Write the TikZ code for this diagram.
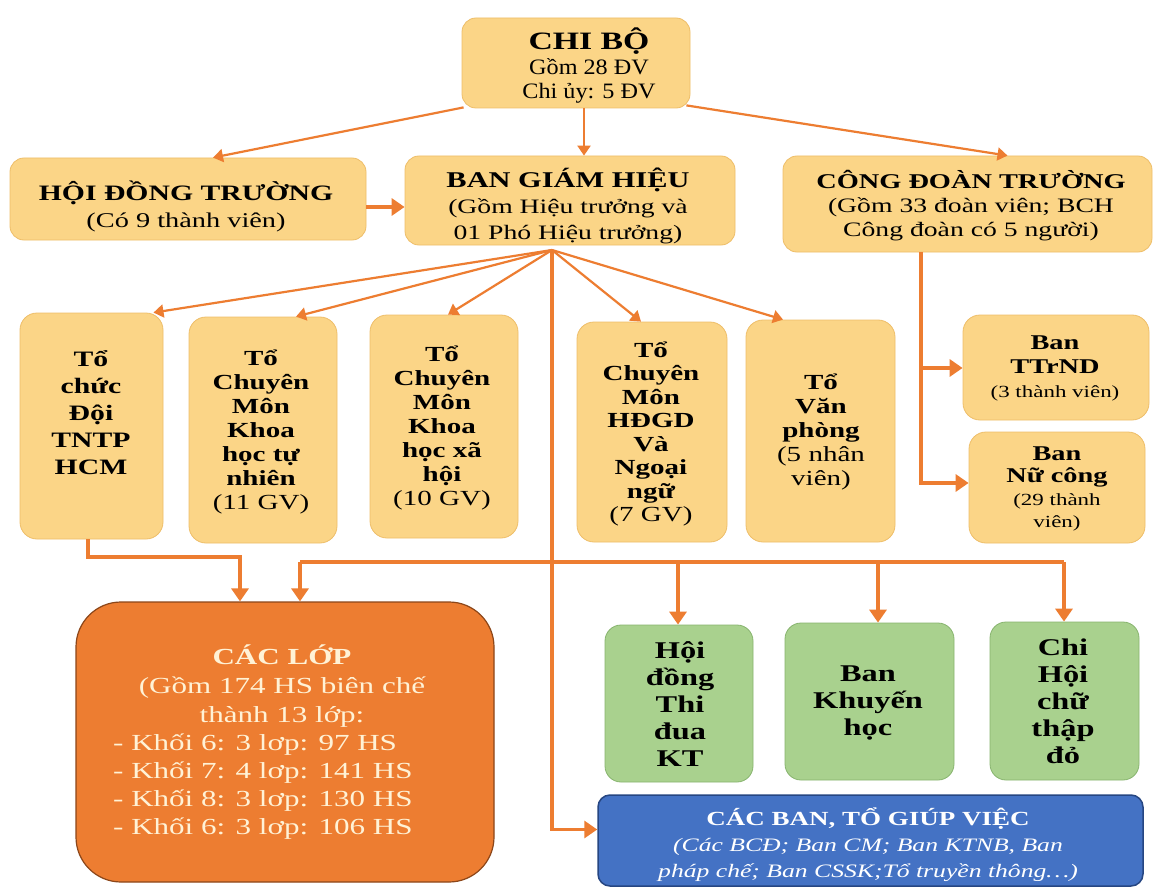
\documentclass[tikz,border=0pt]{standalone}
\usepackage{fontspec}
\setmainfont{Liberation Serif}[FakeStretch=1.35]
\newfontfamily\lessstretch{Liberation Serif}[FakeStretch=1.1]
\usetikzlibrary{arrows.meta}
\definecolor{arr}{RGB}{237,125,49}
\definecolor{yfill}{RGB}{251,213,135}
\definecolor{yedge}{RGB}{238,190,105}
\definecolor{gfill}{RGB}{169,209,142}
\definecolor{gedge}{RGB}{135,180,110}
\definecolor{bfill}{RGB}{68,114,196}
\definecolor{bedge}{RGB}{38,70,130}
\definecolor{ofill}{RGB}{237,125,49}
\definecolor{oedge}{RGB}{140,70,25}
\definecolor{cream}{RGB}{255,242,214}
\begin{document}
\begin{tikzpicture}[x=1pt,y=-1pt,
  ybox/.style={draw=yedge, line width=0.8pt, fill=yfill, rounded corners=14pt, inner sep=0pt},
  gbox/.style={draw=gedge, line width=0.8pt, fill=gfill, rounded corners=16pt, inner sep=0pt},
  obox/.style={draw=oedge, line width=1.2pt, fill=ofill, rounded corners=45pt, inner sep=0pt},
  bbox/.style={draw=bedge, line width=1.5pt, fill=bfill, rounded corners=12pt, inner sep=0pt},
  txt/.style={inner sep=0pt, align=center, text=black},
  tarr/.style={draw=arr, line width=2.2pt, -{Triangle[length=10pt,width=13pt]}},
  karr/.style={draw=arr, line width=3.8pt, -{Triangle[length=13pt,width=17pt]}},
  kline/.style={draw=arr, line width=3.8pt}
]
\useasboundingbox (0,0) rectangle (1154,888);
\fill[white] (0,0) rectangle (1154,888);

% top level
\node[ybox, minimum width=228pt, minimum height=90pt] (chibo) at (576,63) {};
\node[txt, font=\lessstretch\fontsize{22}{24.5}\selectfont] (chibo-t) at (589,66)
  {{\rmfamily\fontsize{25}{24.5}\selectfont\bfseries CHI BỘ}\\Gồm 28 ĐV\\Chi ủy: 5 ĐV};

\node[ybox, minimum width=356pt, minimum height=82pt] (hdt) at (188,199) {};
\node[txt, font=\fontsize{21}{27}\selectfont] (hdt-t) at (186,206)
  {{\fontsize{22}{27}\selectfont\bfseries HỘI ĐỒNG TRƯỜNG}\\(Có 9 thành viên)};

\node[ybox, minimum width=330pt, minimum height=89pt] (bgh) at (570,200.5) {};
\node[txt, font=\fontsize{20.5}{26}\selectfont] (bgh-t) at (568,206)
  {{\fontsize{22.5}{26}\selectfont\bfseries BAN GIÁM HIỆU}\\(Gồm Hiệu trưởng và\\01 Phó Hiệu trưởng)};

\node[ybox, minimum width=369pt, minimum height=96pt] (cdt) at (967.5,204) {};
\node[txt, font=\fontsize{20.5}{24}\selectfont] (cdt-t) at (971,206)
  {{\fontsize{21}{24}\selectfont\bfseries CÔNG ĐOÀN TRƯỜNG}\\(Gồm 33 đoàn viên; BCH\\Công đoàn có 5 người)};

% second row
\node[ybox, rounded corners=17pt, minimum width=143pt, minimum height=226pt] (tochuc) at (91.5,426) {};
\node[txt, font=\fontsize{22}{27}\selectfont\bfseries] (tochuc-t) at (91,412.5)
  {Tổ\\chức\\Đội\\TNTP\\HCM};

\node[ybox, rounded corners=17pt, minimum width=148pt, minimum height=226pt] (khtn) at (263,430) {};
\node[txt, font=\fontsize{21.5}{24}\selectfont\bfseries] (khtn-t) at (261,432)
  {Tổ\\Chuyên\\Môn\\Khoa\\học tự\\nhiên\\{\mdseries (11 GV)}};

\node[ybox, rounded corners=17pt, minimum width=148pt, minimum height=223pt] (khxh) at (444,426.5) {};
\node[txt, font=\fontsize{21.5}{24}\selectfont\bfseries] (khxh-t) at (442,428)
  {Tổ\\Chuyên\\Môn\\Khoa\\học xã\\hội\\{\mdseries (10 GV)}};

\node[ybox, rounded corners=17pt, minimum width=150pt, minimum height=220pt] (hdgd) at (652,432) {};
\node[txt, font=\fontsize{21.5}{23.5}\selectfont\bfseries] (hdgd-t) at (651,434)
  {Tổ\\Chuyên\\Môn\\HĐGD\\Và\\Ngoại\\ngữ\\{\mdseries (7 GV)}};

\node[ybox, rounded corners=17pt, minimum width=149pt, minimum height=222pt] (vp) at (820.5,431) {};
\node[txt, font=\fontsize{21.5}{24}\selectfont\bfseries] (vp-t) at (821,432)
  {Tổ\\Văn\\phòng\\{\mdseries (5 nhân}\\{\mdseries viên)}};

\node[ybox, rounded corners=17pt, minimum width=186pt, minimum height=105pt] (ttrnd) at (1056,367.5) {};
\node[txt, font=\fontsize{21}{24}\selectfont\bfseries] (ttrnd-t) at (1055,368)
  {Ban\\TTrND\\{\mdseries\fontsize{17}{22}\selectfont (3 thành viên)}};

\node[ybox, rounded corners=17pt, minimum width=176pt, minimum height=111pt] (nucong) at (1057,487.5) {};
\node[txt, font=\fontsize{21}{22.5}\selectfont\bfseries] (nucong-t) at (1057,489)
  {Ban\\Nữ công\\{\mdseries\fontsize{17}{20}\selectfont (29 thành}\\{\mdseries\fontsize{17}{20}\selectfont viên)}};

% classes
\node[obox, minimum width=418pt, minimum height=280pt] (caclop) at (285,742) {};
\node[txt, text=cream, font=\fontsize{23}{29}\selectfont] (caclop-t) at (282,686)
  {{\bfseries CÁC LỚP}\\(Gồm 174 HS biên chế\\thành 13 lớp:};
\node[txt, text=cream, align=left, anchor=west, font=\fontsize{23}{28}\selectfont] (caclop-k) at (113,787)
  {- Khối 6: 3 lơp: 97 HS\\- Khối 7: 4 lơp: 141 HS\\- Khối 8: 3 lơp: 130 HS\\- Khối 6: 3 lơp: 106 HS};

% green boxes
\node[gbox, minimum width=148pt, minimum height=157pt] (hdtd) at (679,703.5) {};
\node[txt, font=\fontsize{24}{27}\selectfont\bfseries] (hdtd-t) at (680,704)
  {Hội\\đồng\\Thi\\đua\\KT};
\node[gbox, minimum width=169pt, minimum height=157pt] (bkh) at (869.5,701.5) {};
\node[txt, font=\fontsize{24}{27}\selectfont\bfseries] (bkh-t) at (868,703)
  {Ban\\Khuyến\\học};
\node[gbox, minimum width=149pt, minimum height=158pt] (chct) at (1064.5,701) {};
\node[txt, font=\fontsize{24}{27}\selectfont\bfseries] (chct-t) at (1063,701)
  {Chi\\Hội\\chữ\\thập\\đỏ};

% blue box
\node[bbox, minimum width=545pt, minimum height=91pt] (cacban) at (870.5,840.5) {};
\node[txt, text=white, font=\fontsize{19}{26}\selectfont\itshape] (cacban-t) at (868,845)
  {{\upshape\bfseries\fontsize{20}{26}\selectfont CÁC BAN, TỔ GIÚP VIỆC}\\(Các BCĐ; Ban CM; Ban KTNB, Ban\\pháp chế; Ban CSSK;Tổ truyền thông…)};

% connectors: top
\draw[tarr] ([xshift=2pt,yshift=1pt]chibo.south west) -- ([xshift=25pt]hdt.north);
\draw[tarr] ([xshift=8pt]chibo.south) -- ([xshift=14pt]bgh.north);
\draw[tarr] ([xshift=-4pt,yshift=3pt]chibo.south east) -- ([xshift=40pt]cdt.north);
\coordinate (hb) at (0,207);
\draw[karr] (hdt.east |- hb) -- (bgh.west |- hb);

% fan from BGH
\coordinate (bghc) at (552,250);
\draw[tarr] (bghc) -- ([xshift=62pt]tochuc.north);
\draw[tarr] (bghc) -- ([xshift=33pt]khtn.north);
\draw[tarr] (bghc) -- ([xshift=4pt]khxh.north);
\draw[tarr] (bghc) -- ([xshift=-11pt]hdgd.north);
\draw[tarr] (bghc) -- ([xshift=-37.5pt]vp.north);

% trunk to CAC BAN
\draw[karr] (bghc) |- ([yshift=11pt]cacban.west);

% bus
\coordinate (busL) at (300,562);
\coordinate (busR) at (1064,562);
\coordinate (d1) at (678,562);
\coordinate (d2) at (878,562);
\draw[kline] (busL) -- (busR);
\draw[karr] (busL) -- (busL |- caclop.north);
\draw[karr] (d1) -- (d1 |- hdtd.north);
\draw[karr] (d2) -- (d2 |- bkh.north);
\draw[karr] (busR) -- (busR |- chct.north);

% to chuc doi -> cac lop
\coordinate (tc1) at (88,557);
\coordinate (tc2) at (240,557);
\draw[karr] (tochuc.south -| tc1) |- (tc2) -- (tc2 |- caclop.north);

% cong doan
\coordinate (cv) at (921,483);
\coordinate (cb) at (921,368);
\draw[karr] (cdt.south -| cv) |- (nucong.west |- cv);
\draw[karr] (cb) -- (ttrnd.west |- cb);
\end{tikzpicture}
\end{document}
